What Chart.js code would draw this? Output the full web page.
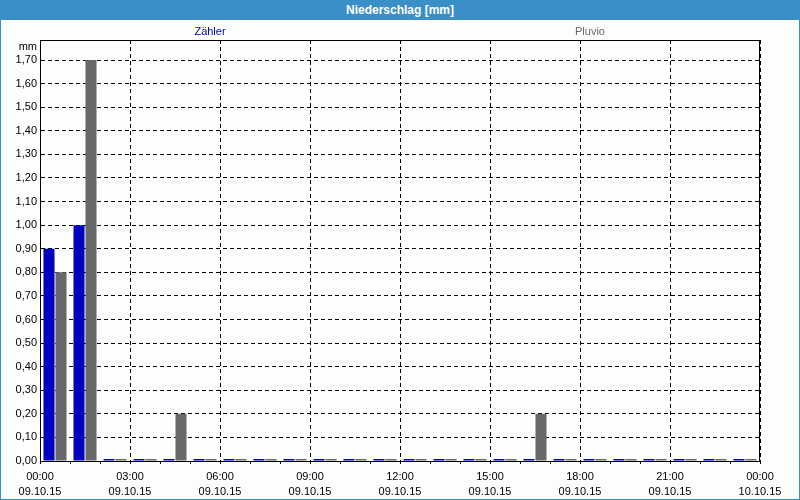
<!DOCTYPE html>
<html>
<head>
<meta charset="utf-8">
<script src="https://cdn.jsdelivr.net/npm/chart.js@4"></script>
<style>
  body { margin: 0; background: #fff; }
  #box { position: relative; width: 800px; height: 500px; background: #fcfefc;
         font-family: "Liberation Sans", Arial, sans-serif; overflow: hidden; }
  #frame { position: absolute; left: 0; top: 0; width: 800px; height: 500px; box-sizing: border-box;
           border: 1px solid #3b8fc8; border-top: none; pointer-events: none; }
  #title { position: absolute; left: 0; top: 0; width: 800px; height: 20px; background: #3b8fc8;
           color: #fff; font-weight: bold; font-size: 12px; line-height: 20px; text-align: center; }
  .leg { position: absolute; top: 25px; font-size: 11px; transform: translateX(-50%); }
  canvas { position: absolute; left: 0; top: 0; }
</style>
</head>
<body>
<div id="box">
  <canvas id="niederschlag" width="800" height="500"></canvas>
  <div id="title">Niederschlag [mm]</div>
  <div class="leg" style="left:210px;color:#0000c0">Zähler</div>
  <div class="leg" style="left:590px;color:#68676a">Pluvio</div>
  <div id="frame"></div>
</div>
<script>
// hourly buckets, 09.10.15 00:00 .. 23:00
const hours = ['00','01','02','03','04','05','06','07','08','09','10','11',
               '12','13','14','15','16','17','18','19','20','21','22','23'];
const zaehler = [0.90, 1.00, 0, 0, 0, 0, 0, 0, 0, 0, 0, 0,
                 0, 0, 0, 0, 0, 0, 0, 0, 0, 0, 0, 0];
const pluvio  = [0.80, 1.70, 0, 0, 0.20, 0, 0, 0, 0, 0, 0, 0,
                 0, 0, 0, 0, 0.20, 0, 0, 0, 0, 0, 0, 0];

// x tick labels every 3 hours
const tickTimes = ['00:00','03:00','06:00','09:00','12:00','15:00','18:00','21:00','00:00'];
const tickDates = ['09.10.15','09.10.15','09.10.15','09.10.15','09.10.15',
                   '09.10.15','09.10.15','09.10.15','10.10.15'];

const yMax = 1.785;
const font = { family: '"Liberation Sans", Arial, sans-serif', size: 11 };

const frame = {
  id: 'frame',
  afterDraw(chart) {
    const { ctx, chartArea: a } = chart;
    ctx.save();
    ctx.strokeStyle = '#000';
    ctx.lineWidth = 1;
    ctx.strokeRect(a.left + 0.5, a.top + 0.5, a.right - a.left - 1, a.bottom - a.top);
    ctx.fillStyle = '#000';
    ctx.font = '11px "Liberation Sans", Arial, sans-serif';
    ctx.textAlign = 'right';
    ctx.textBaseline = 'middle';
    ctx.fillText('mm', 37, 47);
    ctx.restore();
  }
};

new Chart(document.getElementById('niederschlag'), {
  type: 'bar',
  data: {
    labels: hours,
    datasets: [
      { label: 'Zähler', data: zaehler, backgroundColor: '#0000c0', minBarLength: 2 },
      { label: 'Pluvio', data: pluvio, backgroundColor: '#68676a', minBarLength: 2 }
    ]
  },
  options: {
    responsive: false,
    animation: false,
    borderWidth: 0,
    categoryPercentage: 0.8,
    barPercentage: 0.92,
    layout: { padding: { top: 40, right: 40, left: 0, bottom: 0 } },
    plugins: { legend: { display: false }, tooltip: { enabled: false } },
    scales: {
      x: { display: false, offset: true },
      xt: {
        type: 'linear', position: 'bottom', min: 0, max: 24,
        offset: false,
        afterFit(s) { s.height = 39; },
        grid: {
          offset: false,
          color: c => c.tick && c.tick.value % 3 === 0 ? '#000' : 'rgba(0,0,0,0)',
          tickColor: '#000', tickLength: 3
        },
        border: { display: true, color: '#000', width: 1, dash: [4, 3] },
        ticks: {
          stepSize: 1, autoSkip: false, maxRotation: 0, padding: 6,
          color: '#000', font: { ...font, lineHeight: 1.35 },
          callback: v => v % 3 === 0 ? [tickTimes[v / 3], tickDates[v / 3]] : ''
        }
      },
      y: {
        min: 0, max: yMax,
        afterFit(s) { s.width = 40; },
        grid: {
          color: c => c.tick && Math.abs(c.tick.value - yMax) < 1e-6 ? 'rgba(0,0,0,0)' : '#000',
          drawTicks: false, tickLength: 0
        },
        border: { display: true, color: '#000', width: 1, dash: [4, 3] },
        ticks: {
          stepSize: 0.1, padding: 3, color: '#000', font: font,
          callback: v => Math.abs(v - yMax) < 1e-6 ? '' : v.toFixed(2).replace('.', ',')
        }
      }
    }
  },
  plugins: [frame]
});
</script>
</body>
</html>
